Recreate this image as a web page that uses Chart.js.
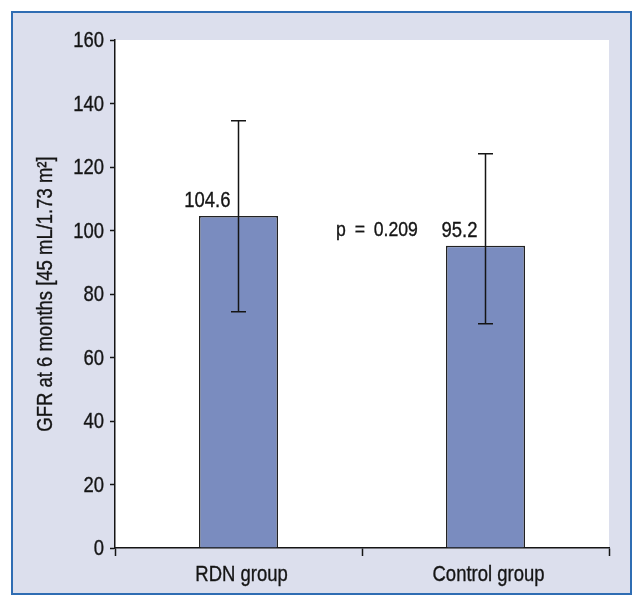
<!DOCTYPE html>
<html>
<head>
<meta charset="utf-8">
<script src="https://cdn.jsdelivr.net/npm/chart.js@4/dist/chart.umd.min.js"></script>
<style>
  html, body { margin: 0; padding: 0; background: #ffffff; }
  #wrap { width: 643px; height: 607px; }
</style>
</head>
<body>
<div id="wrap"><canvas id="c" width="643" height="607"></canvas></div>
<script>
const categories = ['RDN group', 'Control group'];
const meanValues = [104.6, 95.2];
const errUpper = [134.6, 124.2];
const errLower = [74.4, 70.6];
const valueLabels = ['104.6', '95.2'];
const pLabel = 'p = 0.209';
const yTicks = [0, 20, 40, 60, 80, 100, 120, 140, 160];
const yTitle = 'GFR at 6 months [45 mL/1.73 m\u00B2]';

const FONT = '"Liberation Sans", Arial, sans-serif';
const INK = '#151515';
const SX = 0.84; // horizontal condensing to mimic a condensed face

function condText(ctx, text, x, y, size, align, baseline, rot) {
  ctx.save();
  ctx.translate(x, y);
  if (rot) ctx.rotate(rot);
  ctx.scale(SX, 1);
  ctx.font = size + 'px ' + FONT;
  ctx.fillStyle = INK;
  ctx.strokeStyle = INK;
  ctx.lineWidth = 0.35;
  ctx.textAlign = align;
  ctx.textBaseline = baseline;
  ctx.fillText(text, 0, 0);
  ctx.strokeText(text, 0, 0);
  ctx.restore();
}

const framePlugin = {
  id: 'frame',
  beforeDraw(chart) {
    const ctx = chart.ctx;
    const a = chart.chartArea;
    ctx.save();
    ctx.fillStyle = '#ffffff';
    ctx.fillRect(0, 0, chart.width, chart.height);
    ctx.fillStyle = '#dcdfed';
    ctx.fillRect(12, 12, 619, 582);
    ctx.strokeStyle = '#2f6db3';
    ctx.lineWidth = 2;
    ctx.strokeRect(12, 12, 619, 582);
    ctx.fillStyle = '#ffffff';
    ctx.fillRect(a.left, a.top, a.right - a.left, a.bottom - a.top);
    ctx.restore();
  }
};

const labelsPlugin = {
  id: 'labels',
  afterDraw(chart) {
    const ctx = chart.ctx;
    const ys = chart.scales.y;
    const xs = chart.scales.x;
    const a = chart.chartArea;
    ys.ticks.forEach((t, i) => {
      condText(ctx, String(t.value), a.left - 11, ys.getPixelForTick(i) + 1, 22, 'right', 'middle');
    });
    categories.forEach((c, i) => {
      condText(ctx, c, xs.getPixelForValue(i) + 3, a.bottom + 33, 22, 'center', 'alphabetic');
    });
    condText(ctx, yTitle, 46, (a.top + a.bottom) / 2, 22, 'center', 'middle', -Math.PI / 2);
  }
};

const annotPlugin = {
  id: 'annot',
  afterDatasetsDraw(chart) {
    const ctx = chart.ctx;
    const ys = chart.scales.y;
    const xs = chart.scales.x;
    const meta = chart.getDatasetMeta(0);
    ctx.save();
    ctx.strokeStyle = INK;
    ctx.lineWidth = 1.5;
    meta.data.forEach((bar, i) => {
      const x = bar.x;
      const yt = ys.getPixelForValue(errUpper[i]);
      const yb = ys.getPixelForValue(errLower[i]);
      ctx.beginPath();
      ctx.moveTo(x, yt); ctx.lineTo(x, yb);
      ctx.moveTo(x - 7.5, yt); ctx.lineTo(x + 7.5, yt);
      ctx.moveTo(x - 7.5, yb); ctx.lineTo(x + 7.5, yb);
      ctx.stroke();
    });
    ctx.restore();
    meta.data.forEach((bar, i) => {
      condText(ctx, valueLabels[i], bar.x - 8, ys.getPixelForValue(meanValues[i]) - 9, 22, 'right', 'alphabetic');
    });
    const mid = xs.getPixelForValue(0.5);
    condText(ctx, pLabel.replace(/ /g, '\u2002'), mid - 26, ys.getPixelForValue(98.4), 21, 'left', 'alphabetic');
  }
};

new Chart(document.getElementById('c'), {
  type: 'bar',
  data: {
    labels: categories,
    datasets: [{
      data: meanValues,
      backgroundColor: '#7a8cbf',
      borderColor: '#222222',
      borderWidth: 1.5,
      barPercentage: 0.32,
      categoryPercentage: 1
    }]
  },
  options: {
    responsive: false,
    animation: false,
    devicePixelRatio: 1,
    layout: { padding: { left: 0, top: 40, right: 34, bottom: 0 } },
    plugins: { legend: { display: false }, tooltip: { enabled: false } },
    scales: {
      x: {
        type: 'category',
        offset: true,
        afterFit(s) { s.height = 59; },
        grid: {
          offset: true,
          drawOnChartArea: false,
          tickLength: 8,
          tickColor: INK,
          tickWidth: 1.5
        },
        border: { color: INK, width: 1.5 },
        ticks: { display: false }
      },
      y: {
        min: 0, max: 160,
        afterFit(s) { s.width = 115; },
        afterBuildTicks(s) { s.ticks = yTicks.map(v => ({ value: v })); },
        grid: {
          drawOnChartArea: false,
          tickLength: 5,
          tickColor: INK,
          tickWidth: 1.5
        },
        border: { color: INK, width: 1.5 },
        ticks: { display: false }
      }
    }
  },
  plugins: [framePlugin, annotPlugin, labelsPlugin]
});
</script>
</body>
</html>
